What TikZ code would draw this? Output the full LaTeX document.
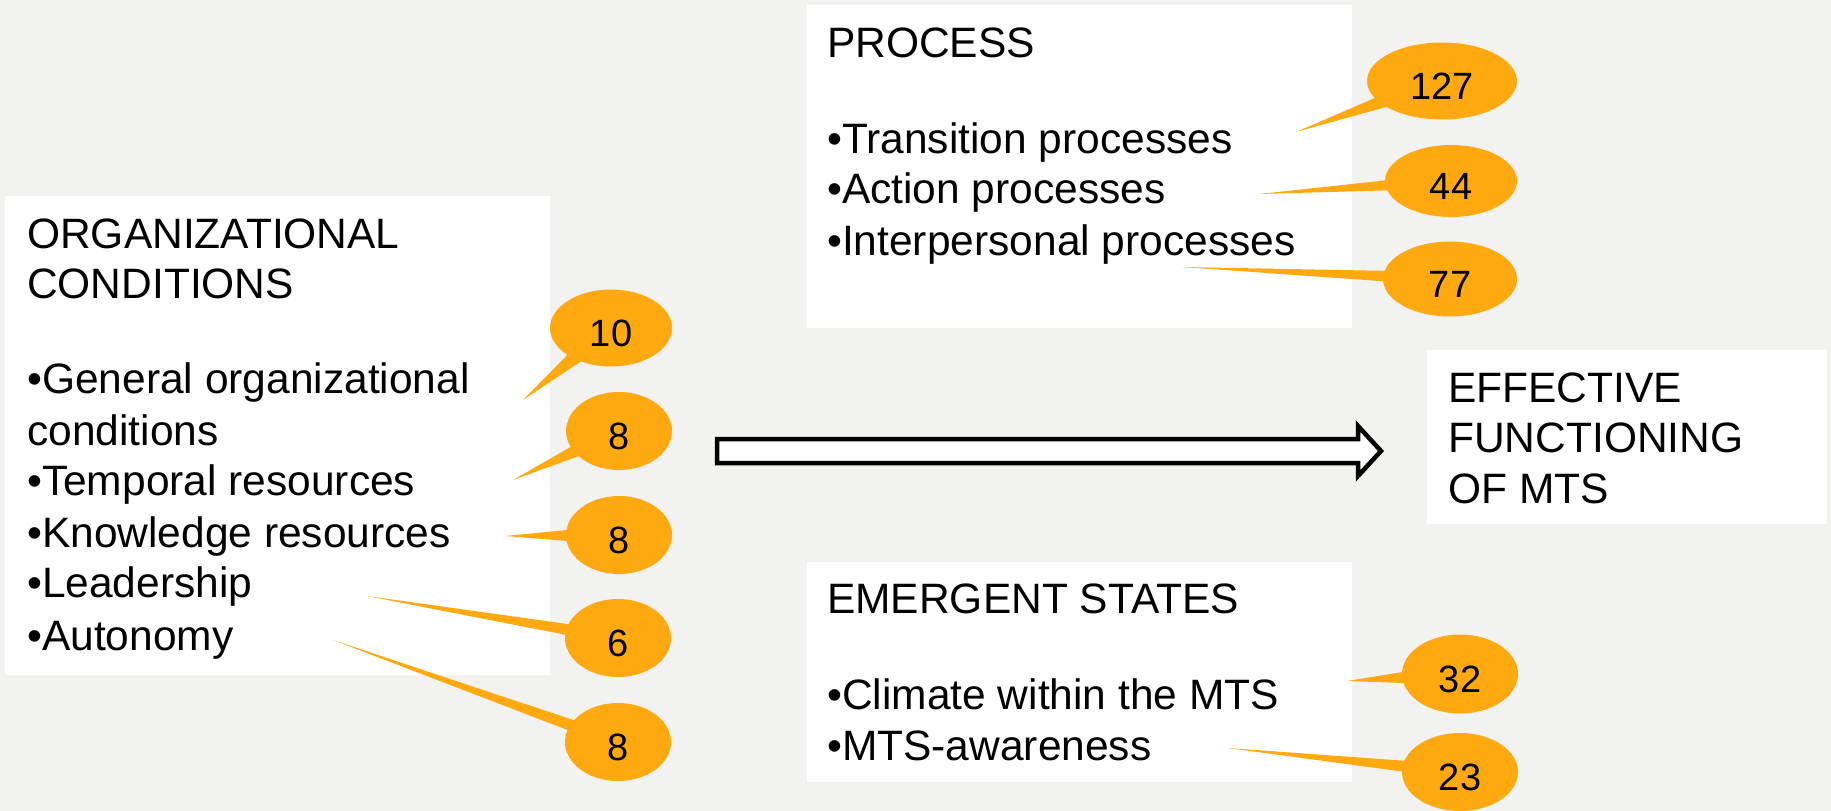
\documentclass[tikz,border=0pt]{standalone}
\usepackage{fontspec}
\setmainfont{Liberation Sans}
\usetikzlibrary{shapes.callouts}
\definecolor{bg}{HTML}{F2F2F0}
\definecolor{callorange}{HTML}{FFA910}
\tikzset{
  panel/.style={fill=white, draw=none},
  line/.style={anchor=base west, inner sep=0pt, font=\fontsize{42.5}{51}\selectfont},
  bubble/.style={ellipse callout, fill=callorange, draw=none, inner sep=0pt, outer sep=0pt,
    callout pointer arc=16, font=\fontsize{38}{38}\selectfont, text height=37.2pt, text depth=0pt},
  blockarrow/.style={draw=black, fill=white, line width=4.5pt, line join=miter}
}
\begin{document}
\begin{tikzpicture}[x=1pt, y=-1pt]
\fill[bg] (0,0) rectangle (1831,811);
\useasboundingbox (0,0) rectangle (1831,811);

% panels
\fill[panel] (5,196) rectangle (550,675);
\fill[panel] (807,5) rectangle (1352,328);
\fill[panel] (807,562) rectangle (1352,782);
\fill[panel] (1427,350) rectangle (1827,524);

% organizational conditions
\node[line] (oc1) at (27,248) {ORGANIZATIONAL};
\node[line] (oc2) at (27,298) {CONDITIONS};
\node[line] (oc3) at (27,393) {•General organizational};
\node[line] (oc4) at (27,445) {conditions};
\node[line] (oc5) at (27,495) {•Temporal resources};
\node[line] (oc6) at (27,547) {•Knowledge resources};
\node[line] (oc7) at (27,597) {•Leadership};
\node[line] (oc8) at (27,650) {•Autonomy};

% process
\node[line] (pr1) at (827,57) {PROCESS};
\node[line] (pr2) at (827,153) {•Transition processes};
\node[line] (pr3) at (827,203) {•Action processes};
\node[line] (pr4) at (827,255) {•Interpersonal processes};

% emergent states
\node[line] (es1) at (827,613) {EMERGENT STATES};
\node[line] (es2) at (827,709) {•Climate within the MTS};
\node[line] (es3) at (827,760) {•MTS-awareness};

% effective functioning
\node[line] (ef1) at (1448,402) {EFFECTIVE};
\node[line] (ef2) at (1448,452) {FUNCTIONING};
\node[line] (ef3) at (1448,503) {OF MTS};

% block arrow
\coordinate (arA) at (717,439);
\coordinate (arB) at (1358,439);
\coordinate (arC) at (1358,426);
\coordinate (arTip) at (1381,451);
\coordinate (arD) at (1358,476);
\coordinate (arE) at (1358,463);
\coordinate (arF) at (717,463);
\draw[blockarrow] (arA) -- (arB) -- (arC) -- (arTip) -- (arD) -- (arE) -- (arF) -- cycle;

% callout tips
\coordinate (t10) at (523,400);
\coordinate (t8a) at (513,480);
\coordinate (t8b) at (505,536);
\coordinate (t6) at (367,596);
\coordinate (t8c) at (333,640);
\coordinate (t127) at (1296,132);
\coordinate (t44) at (1259,194);
\coordinate (t77) at (1182,267);
\coordinate (t32) at (1347,681);
\coordinate (t23) at (1228,748);

% callouts
\node[bubble, minimum width=122pt, minimum height=77pt, callout absolute pointer={(t10)}] (c10) at (611,328) {10};
\node[bubble, minimum width=106pt, minimum height=78pt, callout absolute pointer={(t8a)}] (c8a) at (619,431) {8};
\node[bubble, minimum width=106pt, minimum height=78pt, callout absolute pointer={(t8b)}] (c8b) at (619,535) {8};
\node[bubble, minimum width=106pt, minimum height=78pt, callout absolute pointer={(t6)}] (c6) at (618,638) {6};
\node[bubble, minimum width=106pt, minimum height=78pt, callout absolute pointer={(t8c)}] (c8c) at (618,742) {8};
\node[bubble, minimum width=150pt, minimum height=77pt, callout absolute pointer={(t127)}] (c127) at (1442,81) {127};
\node[bubble, minimum width=132pt, minimum height=72pt, callout absolute pointer={(t44)}] (c44) at (1451,181) {44};
\node[bubble, minimum width=134pt, minimum height=75pt, callout absolute pointer={(t77)}] (c77) at (1450,279) {77};
\node[bubble, minimum width=116pt, minimum height=79pt, callout absolute pointer={(t32)}] (c32) at (1460,674) {32};
\node[bubble, minimum width=116pt, minimum height=78pt, callout absolute pointer={(t23)}] (c23) at (1460,772) {23};
\end{tikzpicture}
\end{document}
